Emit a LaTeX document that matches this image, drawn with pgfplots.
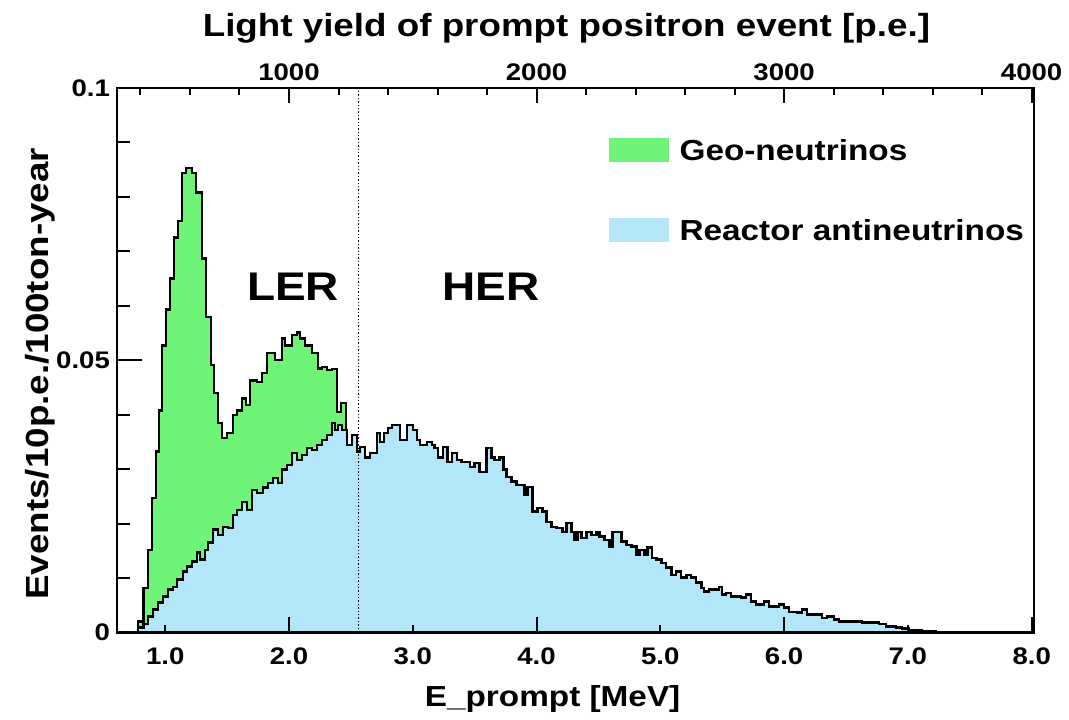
\documentclass[border=0pt]{standalone}
\usepackage{fontspec}
\setmainfont{Liberation Sans}[FakeStretch=1.15]
\usepackage{pgfplots}
\pgfplotsset{compat=1.18}
\definecolor{geogreen}{RGB}{110,245,120}
\definecolor{reacblue}{RGB}{180,230,250}
\newcommand{\fs}[1]{\bfseries\fontsize{#1}{#1}\selectfont}

% total (geo + reactor) outline, left bin edge in MeV
\pgfplotstableread{
E      v
0.782  0.0020
0.823  0.0082
0.863  0.0152
0.895  0.0247
0.927  0.0332
0.952  0.0408
0.976  0.0527
1.008  0.0593
1.040  0.0650
1.073  0.0725
1.105  0.0756
1.137  0.0844
1.169  0.0853
1.218  0.0844
1.250  0.0808
1.298  0.0687
1.331  0.0579
1.371  0.0491
1.395  0.0440
1.427  0.0385
1.460  0.0357
1.500  0.0366
1.548  0.0399
1.581  0.0408
1.621  0.0430
1.653  0.0418
1.685  0.0463
1.742  0.0460
1.782  0.0476
1.823  0.0513
1.887  0.0500
1.944  0.0540
1.968  0.0527
2.024  0.0546
2.065  0.0551
2.089  0.0540
2.129  0.0527
2.185  0.0513
2.234  0.0485
2.266  0.0487
2.306  0.0482
2.347  0.0484
2.387  0.0405
2.419  0.0421
2.460  0.0372
2.468  0.0372
}\geotab

% reactor antineutrinos
\pgfplotstableread{
E      v
0.782  0.0009
0.823  0.0015
0.863  0.0029
0.903  0.0042
0.944  0.0055
0.984  0.0066
1.024  0.0079
1.065  0.0084
1.097  0.0097
1.145  0.0112
1.177  0.0121
1.218  0.0130
1.258  0.0147
1.282  0.0134
1.323  0.0152
1.347  0.0165
1.387  0.0189
1.427  0.0179
1.468  0.0194
1.508  0.0192
1.548  0.0216
1.581  0.0225
1.621  0.0240
1.661  0.0225
1.702  0.0262
1.742  0.0256
1.790  0.0266
1.831  0.0275
1.871  0.0284
1.911  0.0275
1.944  0.0299
1.984  0.0308
2.024  0.0330
2.065  0.0317
2.105  0.0326
2.145  0.0339
2.185  0.0335
2.226  0.0344
2.266  0.0353
2.306  0.0363
2.347  0.0385
2.371  0.0372
2.395  0.0381
2.427  0.0372
2.468  0.0344
2.508  0.0363
2.548  0.0332
2.573  0.0341
2.613  0.0321
2.653  0.0330
2.710  0.0366
2.734  0.0350
2.766  0.0366
2.798  0.0375
2.831  0.0381
2.895  0.0353
2.952  0.0381
3.000  0.0372
3.032  0.0353
3.056  0.0344
3.113  0.0350
3.153  0.0344
3.177  0.0339
3.202  0.0321
3.242  0.0341
3.282  0.0313
3.315  0.0330
3.355  0.0317
3.395  0.0313
3.460  0.0304
3.500  0.0311
3.540  0.0295
3.597  0.0339
3.637  0.0321
3.661  0.0317
3.702  0.0321
3.734  0.0299
3.758  0.0286
3.798  0.0277
3.839  0.0271
3.879  0.0271
3.903  0.0253
3.927  0.0267
3.968  0.0222
4.008  0.0229
4.048  0.0222
4.081  0.0203
4.121  0.0194
4.161  0.0192
4.210  0.0185
4.242  0.0201
4.282  0.0185
4.306  0.0170
4.331  0.0185
4.363  0.0174
4.403  0.0185
4.444  0.0179
4.484  0.0185
4.508  0.0176
4.548  0.0170
4.589  0.0158
4.613  0.0185
4.685  0.0167
4.726  0.0161
4.766  0.0158
4.806  0.0143
4.831  0.0152
4.871  0.0143
4.895  0.0156
4.935  0.0137
4.968  0.0134
5.008  0.0128
5.048  0.0119
5.089  0.0106
5.129  0.0112
5.169  0.0101
5.210  0.0106
5.250  0.0101
5.290  0.0092
5.331  0.0082
5.355  0.0075
5.395  0.0079
5.476  0.0084
5.500  0.0070
5.532  0.0073
5.573  0.0066
5.653  0.0064
5.694  0.0070
5.734  0.0057
5.774  0.0051
5.839  0.0057
5.879  0.0048
5.960  0.0051
6.000  0.0046
6.040  0.0038
6.105  0.0037
6.145  0.0042
6.185  0.0033
6.306  0.0027
6.347  0.0029
6.403  0.0024
6.444  0.0020
6.629  0.0018
6.766  0.0015
6.823  0.0011
6.903  0.0009
6.952  0.0007
7.008  0.0005
7.113  0.0002
7.226  0.0001
7.992  0.0001
}\reactab

\begin{document}
\begin{tikzpicture}
\pgfplotsset{base/.style={scale only axis, width=459pt, height=272.5pt,
  ymin=0, ymax=0.1, tick style={black, line width=1pt}}}

% data, frame, y axis
\begin{axis}[base, xmin=0.61, xmax=8.02, clip=false, axis on top,
  axis line style={line width=1.2pt},
  xtick=\empty,
  ytick={0,0.05,0.1}, yticklabels={0,0.05,0.1},
  minor ytick={0.01,0.02,0.03,0.04,0.06,0.07,0.08,0.09},
  ytick pos=left, major tick length=12.5pt, minor tick length=6.5pt,
  yticklabel style={font=\fs{12}},
  ylabel={Events/10p.e./100ton-year},
  ylabel style={font=\fs{16}, at={(rel axis cs:-0.084,0.475)}, anchor=center}]
\path (rel axis cs:-0.1275,-0.1523) rectangle (rel axis cs:1.037,1.1615);
\addplot[const plot mark left, fill=geogreen, draw=black, line width=1.2pt]
  table[x=E, y=v] {\geotab} \closedcycle;
\addplot[const plot mark left, fill=reacblue, draw=black, line width=1.2pt]
  table[x=E, y=v] {\reactab} \closedcycle;
\addplot[black, densely dotted, line width=0.7pt] coordinates {(2.56,0) (2.56,0.1)};
\fill[geogreen] (rel axis cs:0.537,0.864) rectangle (rel axis cs:0.602,0.908);
\fill[reacblue] (rel axis cs:0.537,0.717) rectangle (rel axis cs:0.602,0.761);
\node[anchor=west, inner sep=0, font=\fs{14.5}] at (rel axis cs:0.613,0.886) {Geo-neutrinos};
\node[anchor=west, inner sep=0, font=\fs{14.5}] at (rel axis cs:0.613,0.739) {Reactor antineutrinos};
\node[font=\fs{20}] at (rel axis cs:0.192,0.635) {LER};
\node[font=\fs{20}] at (rel axis cs:0.408,0.635) {HER};
\end{axis}

% bottom energy scale
\begin{axis}[base, xmin=0.61, xmax=8.02, axis line style={draw=none},
  ytick=\empty, xtick pos=left,
  xtick={2,4,6,8}, xticklabels={2.0,4.0,6.0,8.0},
  minor xtick={1,3,5,7},
  major tick length=7.5pt, minor tick length=3.5pt,
  extra x ticks={1,3,5,7}, extra x tick labels={1.0,3.0,5.0,7.0},
  extra x tick style={major tick length=0pt},
  xticklabel style={font=\fs{12}, yshift=-4pt},
  xlabel={E\_prompt [MeV]},
  xlabel style={font=\fs{14.5}, at={(rel axis cs:0.475,-0.122)}, anchor=center}]
\end{axis}

% top light yield scale
\begin{axis}[base, xmin=305, xmax=4010, axis line style={draw=none},
  ytick=\empty, xtick pos=right, xticklabel pos=right,
  xtick={1000,2000,3000,4000}, xticklabels={1000,2000,3000,4000},
  minor xtick={400,600,...,3800},
  major tick length=7.5pt, minor tick length=3.5pt,
  xticklabel style={font=\fs{12}},
  xlabel={Light yield of prompt positron event [p.e.]},
  xlabel style={font=\fs{16}, at={(rel axis cs:0.49,1.11)}, anchor=center}]
\end{axis}
\end{tikzpicture}
\end{document}
